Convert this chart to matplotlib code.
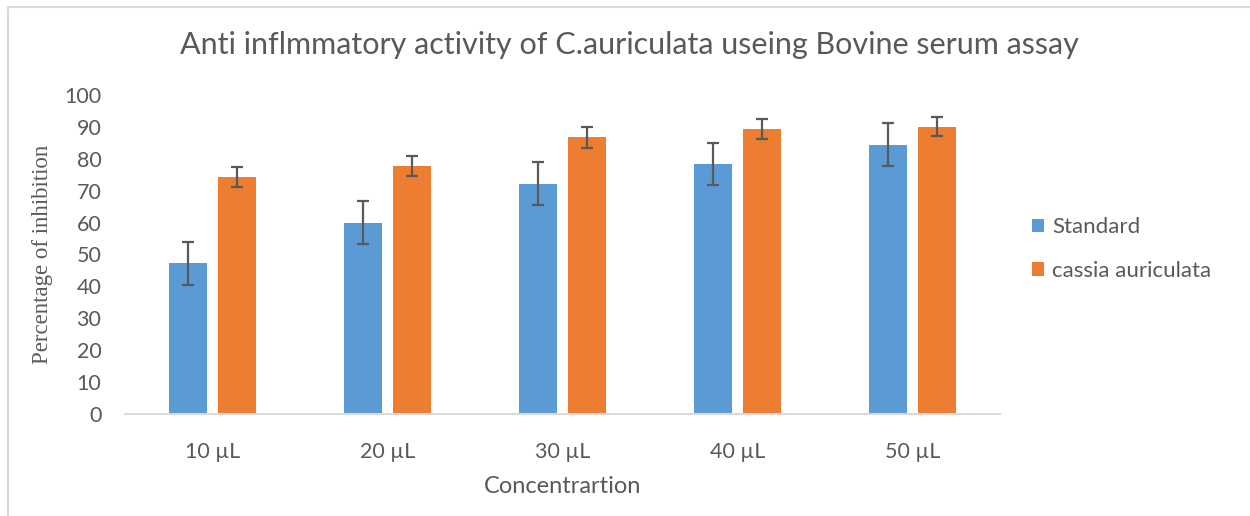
import matplotlib
matplotlib.use("Agg")
import matplotlib.pyplot as plt
from matplotlib.lines import Line2D
import numpy as np

categories = ["10 µL", "20 µL", "30 µL", "40 µL", "50 µL"]
series_names = ["Standard", "cassia auriculata"]
standard = [47.2, 60.0, 72.2, 78.4, 84.4]
standard_err = [6.7, 6.7, 6.7, 6.7, 6.7]
cassia = [74.4, 77.8, 86.7, 89.4, 90.1]
cassia_err = [3.1, 3.1, 3.3, 3.1, 3.1]
yticks = [0, 10, 20, 30, 40, 50, 60, 70, 80, 90, 100]

W, H = 1250, 516
fig = plt.figure(figsize=(W / 100, H / 100), dpi=100)
ax = fig.add_axes([125 / W, 1 - 414 / H, 875 / W, 319 / H])

x = np.arange(len(categories))
bw = 0.22
off = 0.14
txt = "#595959"
ekw = dict(ecolor="#595959", elinewidth=1.6, capsize=4.5, capthick=1.6)
ax.bar(x - off, standard, bw, yerr=standard_err, color="#5B9BD5", label=series_names[0], error_kw=ekw, zorder=2)
ax.bar(x + off, cassia, bw, yerr=cassia_err, color="#ED7D31", label=series_names[1], error_kw=ekw, zorder=2)

ax.set_xlim(-0.5, len(categories) - 0.5)
ax.set_ylim(0, 100)
ax.set_yticks(yticks)
ax.set_xticks(x)
ax.set_xticklabels(categories)
for s in ["top", "right", "left"]:
    ax.spines[s].set_visible(False)
ax.spines["bottom"].set_color("#D9D9D9")
ax.spines["bottom"].set_linewidth(1.5)
ax.tick_params(axis="both", length=0, labelsize=15.5, labelcolor=txt)
ax.tick_params(axis="x", pad=20)
ax.tick_params(axis="y", pad=17)
for lab in ax.get_xticklabels() + ax.get_yticklabels():
    lab.set_family("Lato")

ax.set_xlabel("Concentrartion", fontsize=17, color=txt, family="Lato", labelpad=10)
ax.set_ylabel("Percentage of inhibition", fontsize=16.5, color=txt, family="Liberation Serif", labelpad=8)

fig.text(629 / W, 1 - 45 / H, "Anti inflmmatory activity of C.auriculata useing Bovine serum assay",
         ha="center", va="center", fontsize=22, color=txt, family="Lato")

leg = ax.legend(loc="center left", bbox_to_anchor=(1012 / W, 1 - 249 / H), bbox_transform=fig.transFigure,
                frameon=False, prop={"family": "Lato", "size": 16}, handlelength=0.55, handleheight=0.55,
                handletextpad=0.35, labelspacing=1.05)
for t in leg.get_texts():
    t.set_color(txt)

fig.add_artist(Line2D([8 / W, 8 / W], [0, 1 - 7 / H], transform=fig.transFigure, color="#D9D9D9", lw=1.5))
fig.add_artist(Line2D([8 / W, 1], [1 - 7 / H, 1 - 7 / H], transform=fig.transFigure, color="#D9D9D9", lw=1.5))

fig.savefig("out.png", dpi=100)
